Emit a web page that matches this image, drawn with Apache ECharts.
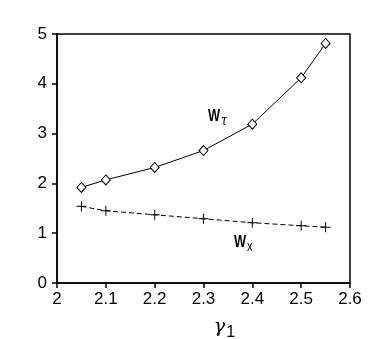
<!DOCTYPE html>
<html><head><meta charset="utf-8">
<script src="https://cdn.jsdelivr.net/npm/echarts@6/dist/echarts.min.js"></script>
<style>html,body{margin:0;padding:0;background:#fff}#c{width:382px;height:339px}</style>
</head><body><div id="c"></div>
<script>
const gammaValues = [2.05, 2.1, 2.2, 2.3, 2.4, 2.5, 2.55];
const wTau = [1.92, 2.07, 2.32, 2.66, 3.19, 4.12, 4.81];
const wX = [1.54, 1.45, 1.37, 1.29, 1.21, 1.15, 1.12];
const xTicks = [2, 2.1, 2.2, 2.3, 2.4, 2.5, 2.6];
const yTicks = [0, 1, 2, 3, 4, 5];

const chart = echarts.init(document.getElementById('c'));
const plus = 'path://M5,0 L5,10 M0,5 L10,5';
const font = '"Liberation Sans", Arial, sans-serif';
chart.setOption({
  animation: false,
  grid: {left: 57, right: 32, top: 34, bottom: 56, containLabel: false, outerBoundsMode: 'none',
    show: true, borderColor: '#000', borderWidth: 1.5, backgroundColor: 'transparent'},
  xAxis: {
    type: 'value', min: xTicks[0], max: xTicks[xTicks.length-1], interval: 0.1,
    axisLine: {onZero: false, lineStyle: {color: '#000', width: 1.5}},
    axisTick: {show: true, length: 5, lineStyle: {color: '#000', width: 1.5}},
    axisLabel: {color: '#000', fontSize: 17, fontFamily: font, margin: 8,
      formatter: v => { const t = xTicks.find(x => Math.abs(x - v) < 1e-6); return t === undefined ? '' : String(t); }},
    splitLine: {show: false},
    name: '{g|γ}{s|1}', nameLocation: 'middle', nameGap: 30,
    nameTextStyle: {padding: [0, 0, 0, 42], rich: {
      g: {fontSize: 19, fontStyle: 'italic', fontFamily: '"DejaVu Serif", serif', color: '#000'},
      s: {fontSize: 16, fontFamily: font, color: '#000', verticalAlign: 'bottom', padding: [12, 0, 0, 1]}
    }}
  },
  yAxis: {
    type: 'value', min: yTicks[0], max: yTicks[yTicks.length-1], interval: 1,
    axisLine: {onZero: false, lineStyle: {color: '#000', width: 1.5}},
    axisTick: {show: true, length: 5, lineStyle: {color: '#000', width: 1.5}},
    axisLabel: {color: '#000', fontSize: 17, fontFamily: font, margin: 10},
    splitLine: {show: false}
  },
  series: [
    {type: 'line', data: gammaValues.map((g, i) => [g, wTau[i]]),
      symbol: 'diamond', symbolSize: [9, 10],
      lineStyle: {color: '#000', width: 1},
      itemStyle: {color: '#fff', borderColor: '#000', borderWidth: 1}, z: 3},
    {type: 'line', data: gammaValues.map((g, i) => [g, wX[i]]),
      symbol: plus, symbolSize: 10,
      lineStyle: {color: '#000', width: 1, type: [5, 3]},
      itemStyle: {color: 'none', borderColor: '#000', borderWidth: 1}, z: 3}
  ],
  graphic: [
    {type: 'text', x: 208, y: 106, scaleX: 0.8, style: {text: '{w|W}{s|τ}', rich: {
      w: {fontSize: 16, fontWeight: 'bold', fontFamily: font, fill: '#000'},
      s: {fontSize: 14, fontFamily: '"DejaVu Serif", serif', fontStyle: 'italic', fill: '#000', padding: [8, 0, 0, 1]}
    }}},
    {type: 'text', x: 234, y: 232, scaleX: 0.8, style: {text: '{w|W}{s|x}', rich: {
      w: {fontSize: 16, fontWeight: 'bold', fontFamily: font, fill: '#000'},
      s: {fontSize: 14, fontFamily: font, fill: '#000', padding: [8, 0, 0, 1]}
    }}}
  ]
});
</script></body></html>
